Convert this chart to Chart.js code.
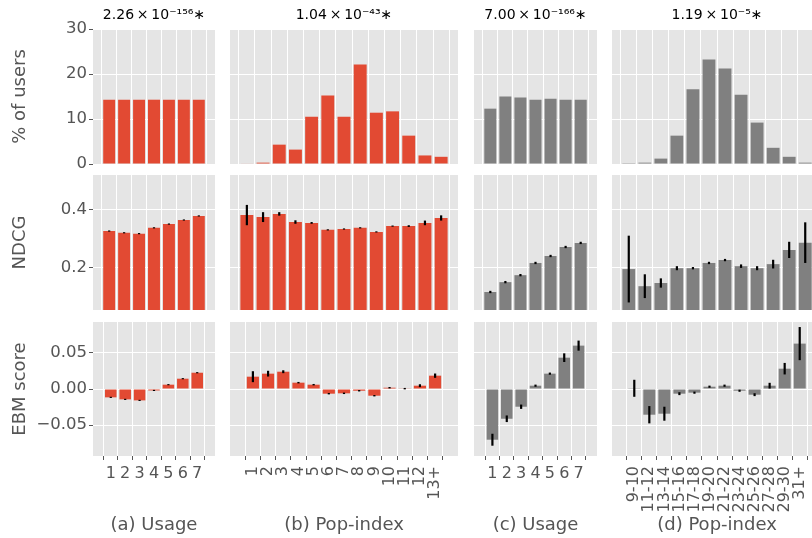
<!DOCTYPE html>
<html>
<head>
<meta charset="utf-8">
<script src="https://cdn.jsdelivr.net/npm/chart.js@4.4.0/dist/chart.umd.min.js"></script>
<style>
  html, body { margin: 0; padding: 0; background: #fff; overflow: hidden; }
  #fig { position: relative; width: 812px; height: 538px; overflow: hidden; }
  #fig canvas { position: absolute; }
</style>
</head>
<body>
<div id="fig"></div>
<script>
// categories
const usageLabels = ["1", "2", "3", "4", "5", "6", "7"];
const popLabelsB = ["1", "2", "3", "4", "5", "6", "7", "8", "9", "10", "11", "12", "13+"];
const popLabelsD = ["9-10", "11-12", "13-14", "15-16", "17-18", "19-20", "21-22",
                    "23-24", "25-26", "27-28", "29-30", "31+"];

// p-values shown above the top row
const pValues = ["2.26\u2009×\u200910⁻¹⁵⁶∗", "1.04\u2009×\u200910⁻⁴³∗", "7.00\u2009×\u200910⁻¹⁶⁶∗", "1.19\u2009×\u200910⁻⁵∗"];
const panelLabels = ["(a) Usage", "(b) Pop-index", "(c) Usage", "(d) Pop-index"];
const rowTitles = ["% of users", "NDCG", "EBM score"];

// % of users
const usersA = [14.29, 14.29, 14.29, 14.29, 14.29, 14.29, 14.29];
const usersB = [0.1, 0.3, 4.3, 3.2, 10.5, 15.2, 10.5, 22.1, 11.4, 11.7, 6.3, 1.9, 1.6];
const usersC = [12.3, 15.0, 14.8, 14.3, 14.5, 14.3, 14.3];
const usersD = [0.05, 0.3, 1.2, 6.3, 16.6, 23.2, 21.2, 15.4, 9.2, 3.6, 1.6, 0.3];

// NDCG (mean, error)
const ndcgA = [0.325, 0.319, 0.316, 0.336, 0.349, 0.363, 0.377];
const ndcgErrA = [0.002, 0.002, 0.002, 0.002, 0.002, 0.002, 0.002];
const ndcgB = [0.380, 0.373, 0.384, 0.356, 0.353, 0.329, 0.332, 0.336, 0.322, 0.342, 0.342, 0.353, 0.370];
const ndcgErrB = [0.035, 0.017, 0.006, 0.006, 0.003, 0.002, 0.002, 0.002, 0.002, 0.002, 0.003, 0.008, 0.009];
const ndcgC = [0.115, 0.149, 0.173, 0.215, 0.239, 0.270, 0.284];
const ndcgErrC = [0.004, 0.004, 0.004, 0.004, 0.004, 0.004, 0.004];
const ndcgD = [0.194, 0.135, 0.146, 0.197, 0.197, 0.215, 0.225, 0.204, 0.197, 0.211, 0.260, 0.285];
const ndcgErrD = [0.115, 0.041, 0.016, 0.007, 0.004, 0.004, 0.004, 0.006, 0.007, 0.015, 0.028, 0.07];

// EBM score (mean, error)
const ebmA = [-0.0116, -0.0144, -0.0158, -0.002, 0.006, 0.0143, 0.0226];
const ebmErrA = [0.0008, 0.0008, 0.0008, 0.0008, 0.0008, 0.0008, 0.0008];
const ebmB = [0.0171, 0.0213, 0.024, 0.0088, 0.006, -0.0065, -0.006, -0.0024, -0.0093, 0.0018, 0.0005, 0.0046, 0.0185];
const ebmErrB = [0.0076, 0.004, 0.002, 0.001, 0.001, 0.001, 0.001, 0.001, 0.001, 0.001, 0.001, 0.002, 0.003];
const ebmC = [-0.0704, -0.0413, -0.0246, 0.0046, 0.0213, 0.0435, 0.0602];
const ebmErrC = [0.0083, 0.0046, 0.003, 0.0015, 0.0015, 0.006, 0.007];
const ebmD = [0.001, -0.0357, -0.0343, -0.0065, -0.0051, 0.0032, 0.0046, -0.0024, -0.0079, 0.0046, 0.0282, 0.063];
const ebmErrD = [0.0118, 0.012, 0.0097, 0.002, 0.0015, 0.0015, 0.0015, 0.0015, 0.002, 0.004, 0.008, 0.023];

// y ticks
const yTicksUsers = [0, 10, 20, 30];
const yTicksNdcg = [0.2, 0.4];
const yTicksEbm = [-0.05, 0, 0.05];

// ---- layout ----
const colX = [[93, 215], [230, 458], [474, 597], [612, 822]];
const rowY = [[29, 164], [175, 310], [322, 456]];
const PAD = 12;
const RED = "#E24A33", GREY = "#808080";
const FONT = "DejaVu Sans";
Chart.defaults.font.family = FONT;

const panelBg = {
  id: "panelBg",
  beforeDraw(chart) {
    const { ctx, chartArea: a } = chart;
    ctx.save();
    ctx.fillStyle = "#E5E5E5";
    ctx.fillRect(a.left, a.top, a.width, a.height);
    ctx.restore();
  }
};

const errorBars = {
  id: "errorBars",
  afterDatasetsDraw(chart) {
    const ds = chart.data.datasets[0];
    if (!ds.errs) return;
    const { ctx, chartArea: a, scales: { x, y } } = chart;
    ctx.save();
    ctx.beginPath();
    ctx.rect(a.left, a.top, a.width, a.height);
    ctx.clip();
    ctx.strokeStyle = "#000";
    ctx.lineWidth = 2.2;
    ds.data.forEach((p, i) => {
      const px = x.getPixelForValue(p.x);
      ctx.beginPath();
      ctx.moveTo(px, y.getPixelForValue(p.y - ds.errs[i]));
      ctx.lineTo(px, y.getPixelForValue(p.y + ds.errs[i]));
      ctx.stroke();
    });
    ctx.restore();
  }
};

const fmtUsers = v => String(v);
const fmtNdcg = v => v.toFixed(1);
const fmtEbm = v => (v < 0 ? "\u2212" : "") + Math.abs(v).toFixed(2);

function panel(row, col, labels, values, errs, color, xlim, ylim, yTicks, yFmt) {
  const [L, R] = colX[col];
  const [T, B] = rowY[row];
  const left = col === 0 ? 0 : L - PAD;
  const top = row === 0 ? 0 : T - PAD;
  const right = R + PAD;
  const bottom = row === 2 ? 538 : B + PAD;
  const rotated = labels.length > 7;

  const canvas = document.createElement("canvas");
  canvas.width = right - left;
  canvas.height = bottom - top;
  canvas.style.left = left + "px";
  canvas.style.top = top + "px";
  document.getElementById("fig").appendChild(canvas);

  new Chart(canvas, {
    type: "bar",
    data: {
      datasets: [{
        data: values.map((v, i) => ({ x: i, y: v })),
        errs: errs,
        backgroundColor: color,
        categoryPercentage: 1,
        barPercentage: 0.8,
        clip: 0
      }]
    },
    options: {
      responsive: false,
      animation: false,
      events: [],
      layout: {
        padding: { left: col === 0 ? 0 : PAD, right: PAD, top: row === 0 ? 0 : PAD, bottom: row === 2 ? 0 : PAD }
      },
      plugins: {
        legend: { display: false },
        tooltip: { enabled: false },
        title: {
          display: row === 0,
          text: pValues[col],
          fullSize: false,
          color: "#000",
          font: { family: FONT, size: 14, weight: "normal" },
          padding: { top: 7.2, bottom: 5 }
        }
      },
      scales: {
        x: {
          type: "linear",
          min: xlim[0],
          max: xlim[1],
          bounds: "data",
          afterBuildTicks: s => { s.ticks = labels.map((_, i) => ({ value: i })); },
          afterFit: s => { s.height = row === 2 ? 538 - B : 0; },
          grid: { color: "#fff", lineWidth: 1, drawTicks: row === 2, tickLength: 4, tickColor: "#555", tickWidth: 1 },
          border: { display: false },
          ticks: {
            display: row === 2,
            autoSkip: false,
            minRotation: rotated ? 90 : 0,
            maxRotation: rotated ? 90 : 0,
            padding: rotated ? 6 : 4,
            color: "#555",
            font: { family: FONT, size: 16 },
            callback: v => labels[v]
          },
          title: {
            display: row === 2,
            text: panelLabels[col],
            color: "#555",
            font: { family: FONT, size: 18 },
            padding: { top: 0, bottom: 2.2 }
          }
        },
        y: {
          min: ylim[0],
          max: ylim[1],
          bounds: "data",
          afterBuildTicks: s => { s.ticks = yTicks.map(v => ({ value: v })); },
          afterFit: s => { s.width = col === 0 ? L : 0; },
          grid: { color: "#fff", lineWidth: 1, drawTicks: col === 0, tickLength: 4, tickColor: "#555", tickWidth: 1 },
          border: { display: false },
          ticks: {
            display: col === 0,
            padding: 2,
            color: "#555",
            font: { family: FONT, size: 16.5 },
            callback: yFmt
          },
          title: {
            display: col === 0,
            text: rowTitles[row],
            color: "#555",
            font: { family: FONT, size: 18 },
            padding: { top: 10, bottom: 0 }
          }
        }
      }
    },
    plugins: [panelBg, errorBars]
  });
}

const usersLim = [0, 30], ndcgLim = [0.053, 0.518], ebmLim = [-0.093, 0.093];
const seabornLim = n => [-0.5, n - 0.5];

// row 1: % of users
panel(0, 0, usageLabels, usersA, null, RED, seabornLim(7), usersLim, yTicksUsers, fmtUsers);
panel(0, 1, popLabelsB, usersB, null, RED, seabornLim(13), usersLim, yTicksUsers, fmtUsers);
panel(0, 2, usageLabels, usersC, null, GREY, seabornLim(7), usersLim, yTicksUsers, fmtUsers);
panel(0, 3, popLabelsD, usersD, null, GREY, seabornLim(12), usersLim, yTicksUsers, fmtUsers);

// row 2: NDCG
panel(1, 0, usageLabels, ndcgA, ndcgErrA, RED, seabornLim(7), ndcgLim, yTicksNdcg, fmtNdcg);
panel(1, 1, popLabelsB, ndcgB, ndcgErrB, RED, seabornLim(13), ndcgLim, yTicksNdcg, fmtNdcg);
panel(1, 2, usageLabels, ndcgC, ndcgErrC, GREY, seabornLim(7), ndcgLim, yTicksNdcg, fmtNdcg);
panel(1, 3, popLabelsD, ndcgD, ndcgErrD, GREY, seabornLim(12), ndcgLim, yTicksNdcg, fmtNdcg);

// row 3: EBM score
panel(2, 0, usageLabels, ebmA, ebmErrA, RED, [-0.63, 6.63], ebmLim, yTicksEbm, fmtEbm);
panel(2, 1, popLabelsB, ebmB, ebmErrB, RED, [-0.93, 12.93], ebmLim, yTicksEbm, fmtEbm);
panel(2, 2, usageLabels, ebmC, ebmErrC, GREY, [-0.67, 6.67], ebmLim, yTicksEbm, fmtEbm);
panel(2, 3, popLabelsD, ebmD, ebmErrD, GREY, [-0.9, 11.9], ebmLim, yTicksEbm, fmtEbm);
</script>
</body>
</html>
